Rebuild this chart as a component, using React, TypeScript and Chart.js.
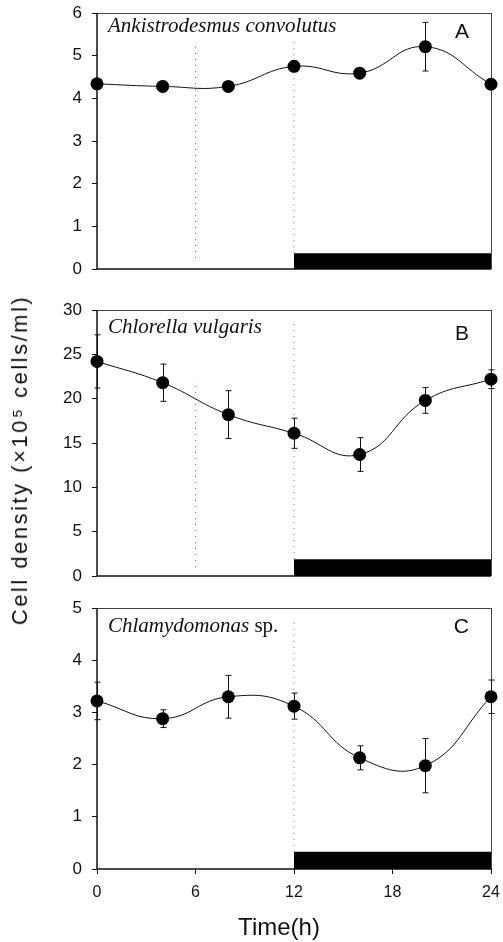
import React, { useEffect, useRef } from "react";
import { Chart, registerables } from "chart.js";

Chart.register(...registerables);

// ---------- data ----------
const timeHours = [0, 4, 8, 12, 16, 20, 24];

const ankistroDensity = [4.34, 4.28, 4.28, 4.75, 4.59, 5.21, 4.33];
const ankistroError = [0.06, 0.12, 0.06, 0.12, 0.07, 0.57, 0.06];

const chlorellaDensity = [24.2, 21.8, 18.2, 16.1, 13.7, 19.8, 22.2];
const chlorellaError = [3.0, 2.1, 2.7, 1.7, 1.9, 1.45, 1.05];

const chlamyDensity = [3.22, 2.88, 3.3, 3.12, 2.13, 1.98, 3.3];
const chlamyError = [0.36, 0.17, 0.41, 0.25, 0.23, 0.52, 0.32];

const speciesItalic = ["Ankistrodesmus convolutus", "Chlorella vulgaris", "Chlamydomonas"];
const speciesSuffix = ["", "", " sp."];
const panelLetters = ["A", "B", "C"];

const yMaxima = [6, 30, 5];
const yStepSizes = [1, 5, 1];
const xTickStep = 6;
const xMin = 0;
const xMax = 24;

const darkPeriod = [12, 24];
const darkBarHeight = [0.37, 1.9, 0.33];

const guideTimes = [[6, 12], [6, 12], [12]];
const guideFrom = [[0.26, 0.37], [1.0, 1.9], [0.33]];
const guideTo = [[5.32, 5.39], [22, 28.9], [4.8]];

const yTitle = "Cell density (\u00d710\u2075 cells/ml)";
const xTitle = "Time(h)";

const densities = [ankistroDensity, chlorellaDensity, chlamyDensity];
const errors = [ankistroError, chlorellaError, chlamyError];

// ---------- layout (positions / styles) ----------
const W = 503;
const panelLayout = [
  { top: 0, height: 290, padTop: 13, padBottom: 21, nameDy: 19, letterDy: 19, showX: false },
  { top: 290, height: 300, padTop: 20, padBottom: 14, nameDy: 23, letterDy: 24, showX: false },
  { top: 590, height: 352, padTop: 18, padBottom: 33, nameDy: 24, letterDy: 19, showX: true },
];
const SANS = "'Liberation Sans', Arial, Helvetica, sans-serif";
const SERIF = "'Liberation Serif', 'Times New Roman', serif";

function Panel({ idx }: { idx: number }) {
  const ref = useRef<HTMLCanvasElement | null>(null);
  useEffect(() => {
    const lay = panelLayout[idx];
    const values = densities[idx];
    const errs = errors[idx];

    const decor = {
      id: "panelDecor" + idx,
      beforeDatasetsDraw(chart: any) {
        const { ctx, chartArea } = chart;
        const xs = chart.scales.x;
        const ys = chart.scales.y;
        ctx.save();
        // frame
        ctx.strokeStyle = "#444";
        ctx.lineWidth = 1;
        ctx.beginPath();
        ctx.moveTo(chartArea.left, Math.round(chartArea.top) + 0.5);
        ctx.lineTo(chartArea.right, Math.round(chartArea.top) + 0.5);
        ctx.moveTo(Math.round(chartArea.right) + 0.5, chartArea.top);
        ctx.lineTo(Math.round(chartArea.right) + 0.5, chartArea.bottom);
        ctx.stroke();
        ctx.strokeStyle = "#111";
        ctx.lineWidth = 1.5;
        ctx.beginPath();
        ctx.moveTo(chartArea.left, chartArea.top);
        ctx.lineTo(chartArea.left, chartArea.bottom);
        ctx.lineTo(chartArea.right, chartArea.bottom);
        ctx.stroke();
        // error bars
        ctx.strokeStyle = "#111";
        ctx.lineWidth = 1;
        values.forEach((v, i) => {
          const e = errs[i];
          const px = Math.round(xs.getPixelForValue(timeHours[i])) + 0.5;
          const y1 = ys.getPixelForValue(v + e);
          const y2 = ys.getPixelForValue(v - e);
          ctx.beginPath();
          ctx.moveTo(px, y1);
          ctx.lineTo(px, y2);
          ctx.moveTo(px - 3, y1);
          ctx.lineTo(px + 3, y1);
          ctx.moveTo(px - 3, y2);
          ctx.lineTo(px + 3, y2);
          ctx.stroke();
        });
        ctx.restore();
      },
      afterDraw(chart: any) {
        const { ctx, chartArea } = chart;
        ctx.save();
        ctx.fillStyle = "#111";
        ctx.textBaseline = "alphabetic";
        ctx.textAlign = "left";
        ctx.font = `italic 21px ${SERIF}`;
        const nx = chartArea.left + 11;
        const ny = chartArea.top + lay.nameDy;
        ctx.fillText(speciesItalic[idx], nx, ny);
        if (speciesSuffix[idx]) {
          const w = ctx.measureText(speciesItalic[idx]).width;
          ctx.font = `21px ${SERIF}`;
          ctx.fillText(speciesSuffix[idx], nx + w, ny);
        }
        ctx.font = `21px ${SANS}`;
        ctx.textAlign = "right";
        ctx.textBaseline = "middle";
        ctx.fillText(panelLetters[idx], chartArea.right - 22, chartArea.top + lay.letterDy);
        ctx.restore();
      },
    };

    const datasets: any[] = [
      {
        type: "line",
        data: timeHours.map((t, i) => ({ x: t, y: values[i] })),
        borderColor: "#111",
        borderWidth: 1,
        tension: 0.45,
        pointRadius: 6.5,
        pointHoverRadius: 6.5,
        pointBackgroundColor: "#000",
        pointBorderWidth: 0,
        clip: false,
        fill: false,
      },
    ];
    guideTimes[idx].forEach((t, k) => {
      datasets.push({
        type: "line",
        data: [
          { x: t, y: guideFrom[idx][k] },
          { x: t, y: guideTo[idx][k] },
        ],
        borderColor: "#777",
        borderWidth: 1,
        borderDash: [1, 5],
        pointRadius: 0,
        fill: false,
      });
    });
    datasets.push({
      type: "line",
      data: [
        { x: darkPeriod[0], y: darkBarHeight[idx] },
        { x: darkPeriod[1], y: darkBarHeight[idx] },
      ],
      borderColor: "#000",
      borderWidth: 0,
      backgroundColor: "#000",
      pointRadius: 0,
      fill: "origin",
    });

    const chart = new Chart(ref.current as HTMLCanvasElement, {
      type: "line",
      data: { datasets },
      options: {
        responsive: false,
        animation: false,
        events: [],
        layout: { padding: { top: lay.padTop, bottom: lay.padBottom, left: 0, right: 12 } },
        plugins: { legend: { display: false }, tooltip: { enabled: false } },
        scales: {
          x: {
            type: "linear",
            min: xMin,
            max: xMax,
            display: lay.showX,
            afterFit: (s: any) => {
              s.height = lay.showX ? 40 : 0;
              s.paddingLeft = 0;
              s.paddingRight = 0;
              s.paddingTop = 0;
              s.paddingBottom = 0;
            },
            ticks: {
              stepSize: xTickStep,
              font: { family: SANS, size: 16 },
              color: "#111",
              padding: 9,
              maxRotation: 0,
            },
            grid: { drawOnChartArea: false, drawTicks: true, tickLength: 5, color: "#111" },
            border: { display: false },
          },
          y: {
            type: "linear",
            min: 0,
            max: yMaxima[idx],
            afterFit: (s: any) => {
              s.width = 97;
              s.paddingLeft = 0;
              s.paddingRight = 0;
              s.paddingTop = 0;
              s.paddingBottom = 0;
            },
            ticks: {
              stepSize: yStepSizes[idx],
              font: { family: SANS, size: 17 },
              color: "#111",
              padding: 10,
            },
            grid: { drawOnChartArea: false, drawTicks: true, tickLength: 5, color: "#111" },
            border: { display: false },
          },
        },
      } as any,
      plugins: [decor],
    });
    return () => chart.destroy();
  }, [idx]);
  const lay = panelLayout[idx];
  return (
    <canvas
      ref={ref}
      width={W}
      height={lay.height}
      style={{ position: "absolute", left: 0, top: lay.top, width: W, height: lay.height }}
    />
  );
}

export default function App() {
  return (
    <div style={{ position: "absolute", left: 0, top: 0, width: W, height: 942, background: "#fff", overflow: "hidden" }}>
      {[0, 1, 2].map((i) => (
        <Panel key={i} idx={i} />
      ))}
      <div
        style={{
          position: "absolute",
          left: 20,
          top: 460,
          transform: "translate(-50%, -50%) rotate(-90deg)",
          whiteSpace: "nowrap",
          fontFamily: SANS,
          fontSize: 22,
          letterSpacing: "2.5px",
          color: "#111",
          lineHeight: 1,
        }}
      >
        {yTitle}
      </div>
      <div
        style={{
          position: "absolute",
          left: 279,
          top: 927,
          transform: "translate(-50%, -50%)",
          whiteSpace: "nowrap",
          fontFamily: SANS,
          fontSize: 24,
          color: "#111",
          lineHeight: 1,
        }}
      >
        {xTitle}
      </div>
    </div>
  );
}
